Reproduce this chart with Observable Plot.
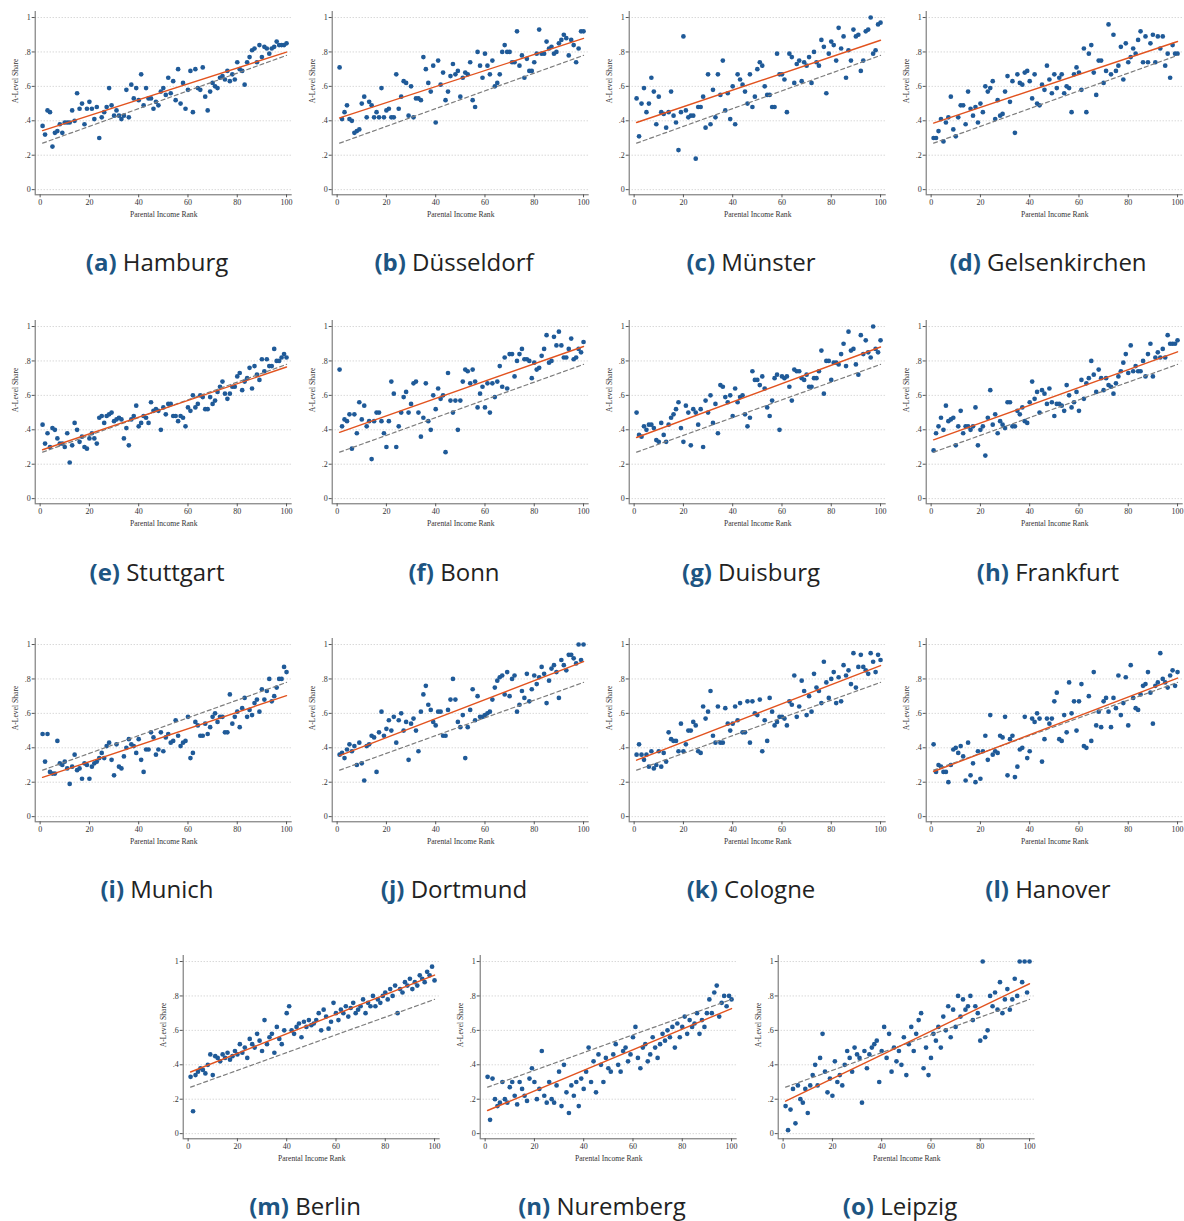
<!DOCTYPE html>
<html><head><meta charset="utf-8">
<script src="https://cdn.jsdelivr.net/npm/d3@7"></script>
<script src="https://cdn.jsdelivr.net/npm/@observablehq/plot@0.6"></script>
<style>
html,body{margin:0;padding:0;background:#fff;overflow:hidden;}
#fig{position:relative;width:1184px;height:1221px;overflow:hidden;}
.panel{position:absolute;width:296px;height:215px;}
.panel svg{max-width:none !important;width:296px;height:215px;}
.cap{position:absolute;width:296px;text-align:center;font-family:"Open Sans","Noto Sans",sans-serif;font-size:24px;line-height:30px;color:#222;white-space:nowrap;}
.cap b{color:#1d5582;font-weight:700;}
</style>
</head><body><div id="fig"></div>
<script>
// ---- data ----
const ranks = d3.range(1, 101);
const letters = ["a","b","c","d","e","f","g","h","i","j","k","l","m","n","o"];
const cities = ["Hamburg","Düsseldorf","Münster","Gelsenkirchen","Stuttgart","Bonn","Duisburg","Frankfurt","Munich","Dortmund","Cologne","Hanover","Berlin","Nuremberg","Leipzig"];
const xTicks = [0,20,40,60,80,100];
const yTicks = [0,0.2,0.4,0.6,0.8,1];
const nationalX = [1,100];
const nationalY = [0.27,0.78];

const hamburg = [0.37,0.32,0.46,0.45,0.25,0.33,0.34,0.38,0.33,0.39,0.39,0.39,0.46,0.40,0.56,0.47,0.50,0.38,0.47,0.51,0.47,0.41,0.48,0.30,0.42,0.45,0.48,0.59,0.49,0.43,0.46,0.43,0.41,0.43,0.58,0.42,0.61,0.53,0.59,0.52,0.67,0.49,0.59,0.53,0.53,0.47,0.51,0.49,0.57,0.59,0.55,0.65,0.56,0.63,0.52,0.70,0.50,0.62,0.47,0.58,0.69,0.45,0.70,0.59,0.58,0.71,0.54,0.46,0.57,0.62,0.60,0.59,0.65,0.66,0.64,0.69,0.63,0.67,0.64,0.74,0.70,0.69,0.61,0.74,0.77,0.81,0.82,0.74,0.84,0.77,0.83,0.82,0.79,0.82,0.83,0.86,0.84,0.84,0.84,0.85];
const duesseldorf = [0.71,0.41,0.45,0.49,0.41,0.40,0.33,0.34,0.35,0.50,0.54,0.42,0.51,0.49,0.42,0.45,0.42,0.59,0.42,0.46,0.47,0.42,0.42,0.67,0.47,0.54,0.63,0.62,0.43,0.60,0.42,0.53,0.53,0.52,0.77,0.70,0.62,0.57,0.72,0.39,0.75,0.61,0.68,0.52,0.57,0.66,0.73,0.67,0.69,0.54,0.65,0.68,0.67,0.74,0.52,0.48,0.80,0.72,0.65,0.79,0.72,0.67,0.75,0.60,0.62,0.67,0.80,0.84,0.80,0.80,0.74,0.74,0.92,0.72,0.78,0.65,0.76,0.69,0.69,0.74,0.79,0.93,0.79,0.79,0.86,0.82,0.83,0.79,0.80,0.85,0.87,0.90,0.88,0.78,0.87,0.84,0.74,0.82,0.92,0.92];
const muenster = [0.53,0.31,0.50,0.59,0.45,0.50,0.65,0.57,0.38,0.54,0.45,0.44,0.36,0.45,0.57,0.43,0.39,0.23,0.45,0.89,0.46,0.42,0.43,0.43,0.18,0.48,0.48,0.54,0.36,0.67,0.38,0.58,0.42,0.67,0.55,0.75,0.46,0.56,0.41,0.60,0.38,0.67,0.64,0.61,0.57,0.50,0.67,0.48,0.54,0.70,0.74,0.72,0.60,0.55,0.55,0.48,0.48,0.79,0.67,0.67,0.64,0.45,0.79,0.77,0.62,0.73,0.75,0.63,0.74,0.72,0.77,0.62,0.80,0.74,0.72,0.87,0.83,0.56,0.79,0.86,0.84,0.75,0.94,0.82,0.89,0.65,0.81,0.75,0.93,0.89,0.90,0.69,0.75,0.92,0.93,1.00,0.79,0.81,0.96,0.97];
const gelsenkirchen = [0.30,0.30,0.34,0.41,0.28,0.39,0.42,0.54,0.35,0.31,0.42,0.49,0.49,0.38,0.57,0.47,0.43,0.48,0.39,0.50,0.45,0.60,0.57,0.59,0.63,0.41,0.52,0.43,0.44,0.57,0.66,0.51,0.63,0.33,0.67,0.62,0.61,0.68,0.69,0.63,0.53,0.67,0.50,0.49,0.61,0.58,0.72,0.64,0.56,0.67,0.59,0.65,0.67,0.56,0.60,0.59,0.45,0.67,0.71,0.68,0.58,0.82,0.45,0.79,0.84,0.68,0.55,0.75,0.75,0.62,0.69,0.96,0.67,0.90,0.69,0.72,0.83,0.64,0.85,0.74,0.77,0.82,0.79,0.87,0.92,0.74,0.89,0.74,0.85,0.90,0.74,0.89,0.82,0.89,0.72,0.79,0.65,0.84,0.79,0.79];
const stuttgart = [0.43,0.32,0.38,0.30,0.41,0.40,0.35,0.32,0.32,0.30,0.38,0.21,0.31,0.44,0.40,0.33,0.36,0.30,0.29,0.35,0.38,0.35,0.32,0.47,0.48,0.44,0.48,0.49,0.50,0.45,0.46,0.47,0.46,0.35,0.41,0.31,0.46,0.48,0.54,0.42,0.44,0.48,0.47,0.44,0.56,0.51,0.52,0.51,0.40,0.53,0.49,0.55,0.55,0.48,0.48,0.45,0.48,0.47,0.42,0.53,0.51,0.60,0.53,0.55,0.60,0.59,0.52,0.52,0.59,0.55,0.57,0.62,0.65,0.68,0.61,0.58,0.61,0.65,0.65,0.71,0.73,0.63,0.68,0.70,0.76,0.64,0.77,0.72,0.69,0.81,0.74,0.81,0.77,0.77,0.87,0.80,0.80,0.82,0.84,0.82];
const bonn = [0.75,0.42,0.46,0.45,0.49,0.29,0.49,0.38,0.56,0.46,0.54,0.42,0.45,0.23,0.45,0.50,0.50,0.45,0.38,0.30,0.45,0.68,0.61,0.30,0.42,0.50,0.59,0.62,0.50,0.55,0.67,0.68,0.50,0.36,0.47,0.67,0.45,0.40,0.60,0.52,0.64,0.58,0.60,0.27,0.73,0.57,0.50,0.57,0.40,0.57,0.68,0.75,0.74,0.67,0.75,0.68,0.53,0.61,0.65,0.53,0.67,0.50,0.67,0.59,0.68,0.77,0.65,0.82,0.64,0.84,0.84,0.71,0.80,0.84,0.87,0.81,0.81,0.80,0.70,0.79,0.75,0.76,0.83,0.87,0.95,0.79,0.80,0.94,0.89,0.97,0.89,0.82,0.82,0.87,0.93,0.81,0.82,0.87,0.85,0.91];
const duisburg = [0.50,0.37,0.36,0.42,0.40,0.43,0.43,0.41,0.34,0.33,0.44,0.37,0.33,0.43,0.47,0.49,0.52,0.56,0.41,0.33,0.54,0.50,0.31,0.52,0.50,0.43,0.52,0.30,0.57,0.50,0.60,0.44,0.55,0.38,0.66,0.65,0.59,0.56,0.60,0.48,0.64,0.56,0.59,0.60,0.49,0.42,0.47,0.74,0.69,0.69,0.66,0.71,0.64,0.53,0.48,0.57,0.70,0.72,0.40,0.71,0.70,0.71,0.65,0.57,0.75,0.74,0.74,0.70,0.69,0.72,0.65,0.65,0.70,0.70,0.74,0.86,0.61,0.80,0.80,0.69,0.79,0.79,0.78,0.84,0.90,0.77,0.97,0.86,0.87,0.78,0.72,0.95,0.84,0.92,0.85,0.82,1.00,0.87,0.85,0.92];
const frankfurt = [0.28,0.38,0.42,0.47,0.40,0.54,0.45,0.46,0.47,0.31,0.42,0.51,0.38,0.42,0.42,0.40,0.42,0.53,0.31,0.40,0.42,0.25,0.47,0.63,0.43,0.49,0.38,0.45,0.43,0.41,0.56,0.56,0.42,0.42,0.51,0.49,0.53,0.45,0.44,0.56,0.68,0.58,0.62,0.50,0.63,0.61,0.55,0.64,0.56,0.48,0.55,0.55,0.54,0.51,0.66,0.60,0.53,0.56,0.62,0.51,0.69,0.58,0.67,0.70,0.80,0.72,0.62,0.75,0.70,0.63,0.70,0.66,0.65,0.61,0.67,0.71,0.74,0.79,0.84,0.73,0.89,0.74,0.77,0.74,0.74,0.80,0.71,0.84,0.90,0.71,0.82,0.85,0.82,0.87,0.82,0.95,0.90,0.90,0.90,0.92];
const munich = [0.48,0.32,0.48,0.26,0.25,0.25,0.44,0.31,0.30,0.32,0.28,0.19,0.29,0.36,0.27,0.28,0.22,0.31,0.30,0.22,0.29,0.31,0.32,0.34,0.37,0.34,0.41,0.43,0.33,0.24,0.42,0.29,0.28,0.35,0.40,0.45,0.42,0.41,0.37,0.45,0.33,0.26,0.39,0.39,0.49,0.46,0.36,0.39,0.49,0.38,0.46,0.48,0.43,0.44,0.56,0.47,0.41,0.43,0.44,0.58,0.34,0.37,0.55,0.53,0.47,0.47,0.54,0.48,0.52,0.58,0.60,0.55,0.58,0.58,0.49,0.49,0.71,0.54,0.58,0.61,0.52,0.63,0.69,0.58,0.62,0.59,0.66,0.68,0.61,0.74,0.68,0.73,0.80,0.67,0.70,0.75,0.80,0.80,0.87,0.84];
const dortmund = [0.36,0.37,0.34,0.39,0.42,0.38,0.41,0.30,0.43,0.31,0.21,0.41,0.42,0.47,0.46,0.26,0.49,0.61,0.47,0.51,0.56,0.50,0.58,0.43,0.56,0.60,0.50,0.55,0.33,0.54,0.57,0.50,0.38,0.61,0.71,0.76,0.65,0.62,0.55,0.53,0.61,0.61,0.47,0.47,0.62,0.68,0.80,0.68,0.55,0.52,0.59,0.34,0.52,0.62,0.74,0.56,0.70,0.58,0.58,0.59,0.60,0.61,0.68,0.75,0.79,0.81,0.82,0.71,0.84,0.70,0.80,0.82,0.61,0.65,0.73,0.69,0.83,0.67,0.74,0.82,0.77,0.81,0.87,0.83,0.66,0.79,0.86,0.88,0.84,0.69,0.91,0.88,0.85,0.94,0.94,0.92,0.89,1.00,0.91,1.00];
const cologne = [0.36,0.42,0.36,0.33,0.36,0.29,0.38,0.28,0.30,0.38,0.29,0.37,0.32,0.49,0.45,0.44,0.44,0.38,0.54,0.38,0.42,0.50,0.50,0.55,0.53,0.38,0.37,0.64,0.57,0.61,0.73,0.47,0.43,0.64,0.43,0.43,0.63,0.54,0.50,0.54,0.64,0.56,0.66,0.49,0.49,0.67,0.43,0.67,0.60,0.59,0.68,0.38,0.56,0.44,0.69,0.61,0.53,0.55,0.58,0.58,0.57,0.53,0.67,0.65,0.82,0.58,0.64,0.79,0.73,0.59,0.70,0.61,0.83,0.75,0.73,0.66,0.90,0.78,0.69,0.80,0.84,0.66,0.81,0.67,0.88,0.82,0.85,0.77,0.95,0.75,0.87,0.94,0.87,0.85,0.83,0.95,0.90,0.84,0.94,0.91];
const hanover = [0.42,0.26,0.30,0.29,0.26,0.26,0.20,0.30,0.39,0.40,0.37,0.41,0.35,0.21,0.43,0.24,0.31,0.20,0.38,0.22,0.38,0.47,0.33,0.59,0.36,0.38,0.37,0.47,0.46,0.58,0.24,0.45,0.47,0.23,0.29,0.39,0.40,0.58,0.34,0.38,0.57,0.55,0.60,0.57,0.32,0.45,0.57,0.54,0.57,0.67,0.72,0.45,0.44,0.59,0.49,0.78,0.60,0.67,0.50,0.67,0.77,0.41,0.40,0.70,0.44,0.84,0.53,0.61,0.52,0.67,0.69,0.61,0.52,0.69,0.63,0.82,0.59,0.66,0.81,0.53,0.88,0.69,0.63,0.62,0.71,0.76,0.77,0.84,0.72,0.54,0.76,0.78,0.95,0.80,0.78,0.75,0.82,0.85,0.76,0.84];
const berlin = [0.33,0.13,0.34,0.36,0.38,0.37,0.35,0.40,0.46,0.34,0.45,0.44,0.42,0.46,0.44,0.47,0.43,0.45,0.48,0.46,0.52,0.47,0.50,0.44,0.55,0.52,0.50,0.58,0.54,0.48,0.66,0.52,0.56,0.58,0.47,0.62,0.55,0.52,0.60,0.70,0.74,0.60,0.58,0.62,0.64,0.56,0.65,0.62,0.66,0.63,0.64,0.66,0.70,0.60,0.72,0.68,0.61,0.65,0.76,0.70,0.66,0.72,0.70,0.74,0.68,0.73,0.76,0.70,0.72,0.74,0.78,0.70,0.76,0.74,0.80,0.74,0.78,0.76,0.80,0.82,0.78,0.84,0.80,0.86,0.70,0.84,0.82,0.88,0.86,0.90,0.84,0.88,0.86,0.92,0.90,0.88,0.94,0.92,0.97,0.89];
const nuremberg = [0.33,0.08,0.32,0.20,0.16,0.18,0.30,0.20,0.18,0.27,0.30,0.22,0.17,0.30,0.26,0.22,0.19,0.32,0.38,0.30,0.20,0.26,0.48,0.22,0.18,0.30,0.20,0.18,0.28,0.36,0.16,0.40,0.24,0.12,0.28,0.22,0.30,0.16,0.32,0.26,0.36,0.50,0.30,0.42,0.24,0.46,0.40,0.30,0.44,0.38,0.36,0.46,0.52,0.40,0.36,0.48,0.50,0.42,0.46,0.56,0.62,0.44,0.38,0.50,0.52,0.42,0.46,0.56,0.50,0.44,0.52,0.58,0.54,0.60,0.56,0.62,0.50,0.64,0.56,0.62,0.68,0.58,0.66,0.62,0.64,0.70,0.58,0.66,0.62,0.70,0.78,0.70,0.82,0.86,0.68,0.76,0.80,0.74,0.80,0.78];
const leipzig = [0.16,0.02,0.14,0.26,0.06,0.28,0.20,0.18,0.26,0.12,0.28,0.34,0.40,0.28,0.44,0.58,0.36,0.24,0.32,0.22,0.42,0.30,0.34,0.28,0.40,0.48,0.44,0.36,0.50,0.46,0.44,0.18,0.48,0.38,0.46,0.50,0.52,0.54,0.30,0.48,0.62,0.44,0.58,0.36,0.50,0.42,0.48,0.40,0.56,0.34,0.52,0.62,0.48,0.58,0.66,0.70,0.38,0.50,0.34,0.44,0.58,0.54,0.62,0.50,0.68,0.60,0.74,0.56,0.72,0.62,0.80,0.68,0.78,0.72,0.74,0.80,0.66,0.74,0.70,0.54,1.00,0.56,0.60,0.80,0.74,0.82,0.72,0.88,0.70,0.78,0.84,0.72,0.78,0.90,0.80,1.00,0.88,1.00,0.82,1.00];

const series = [hamburg,duesseldorf,muenster,gelsenkirchen,stuttgart,bonn,duisburg,frankfurt,munich,dortmund,cologne,hanover,berlin,nuremberg,leipzig];

// ---- layout ----
const colLeft = [[0,297,594,891],[0,297,594,891],[0,297,594,891],[148,445,743]];
const rowTop = [5,314,632,949];
const capMid = [262,572,889,1206];

const fig = document.getElementById("fig");
const national = nationalX.map((x,i)=>({x, y: nationalY[i]}));

function yFmt(v){ if (v === 0) return "0"; if (v === 1) return "1"; return d3.format(".1f")(v).replace(/^0/, ""); }

function makePanel(vals){
  const data = ranks.map((r,i)=>({x:r, y:vals[i]}));
  return Plot.plot({
    width:296, height:215,
    marginLeft:34.7, marginRight:4.3, marginTop:6, marginBottom:25.7,
    x:{domain:[-2,102.3], label:null},
    y:{domain:[-0.03,1.035], label:null},
    style:{fontFamily:"'Liberation Serif','DejaVu Serif',serif", fontSize:"8px", color:"#333", background:"transparent", overflow:"visible"},
    marks:[
      Plot.gridY(yTicks,{stroke:"#b9b9b9", strokeOpacity:1, strokeWidth:0.8, strokeDasharray:"1,2"}),
      Plot.ruleX([-2],{stroke:"#555", strokeWidth:0.9}),
      Plot.ruleY([-0.03],{stroke:"#555", strokeWidth:0.9}),
      Plot.axisX(xTicks,{label:null, tickSize:3, tickPadding:1.5, stroke:"#555", fill:"#333", fontSize:8, tickFormat:d=>String(d)}),
      Plot.axisY(yTicks,{label:null, tickSize:3, tickPadding:1.5, stroke:"#555", fill:"#333", fontSize:8, tickFormat:yFmt}),
      Plot.dot(data,{x:"x", y:"y", r:2.35, fill:"#1f5a98", stroke:"none"}),
      Plot.line(national,{x:"x", y:"y", stroke:"#7d7d7d", strokeWidth:1.2, strokeDasharray:"4,3"}),
      Plot.linearRegressionY(data,{x:"x", y:"y", stroke:"#e2531f", strokeWidth:1.4, ci:0}),
      Plot.text(["Parental Income Rank"],{frameAnchor:"bottom", dy:22.5, fontSize:7.6, fill:"#333"}),
      Plot.text(["A-Level Share"],{frameAnchor:"left", rotate:-90, dx:-20, fontSize:7.6, fill:"#333"})
    ]
  });
}

let k = 0;
for (let r = 0; r < 4; r++) {
  for (let c = 0; c < colLeft[r].length; c++) {
    const div = document.createElement("div");
    div.className = "panel";
    div.style.left = colLeft[r][c] + "px";
    div.style.top = rowTop[r] + "px";
    div.appendChild(makePanel(series[k]));
    fig.appendChild(div);
    const cap = document.createElement("div");
    cap.className = "cap";
    cap.style.left = (colLeft[r][c] + 9) + "px";
    cap.style.top = (capMid[r] - 15) + "px";
    const b = document.createElement("b");
    b.textContent = "(" + letters[k] + ")";
    cap.appendChild(b);
    cap.appendChild(document.createTextNode(" " + cities[k]));
    fig.appendChild(cap);
    k++;
  }
}
</script>
</body></html>
